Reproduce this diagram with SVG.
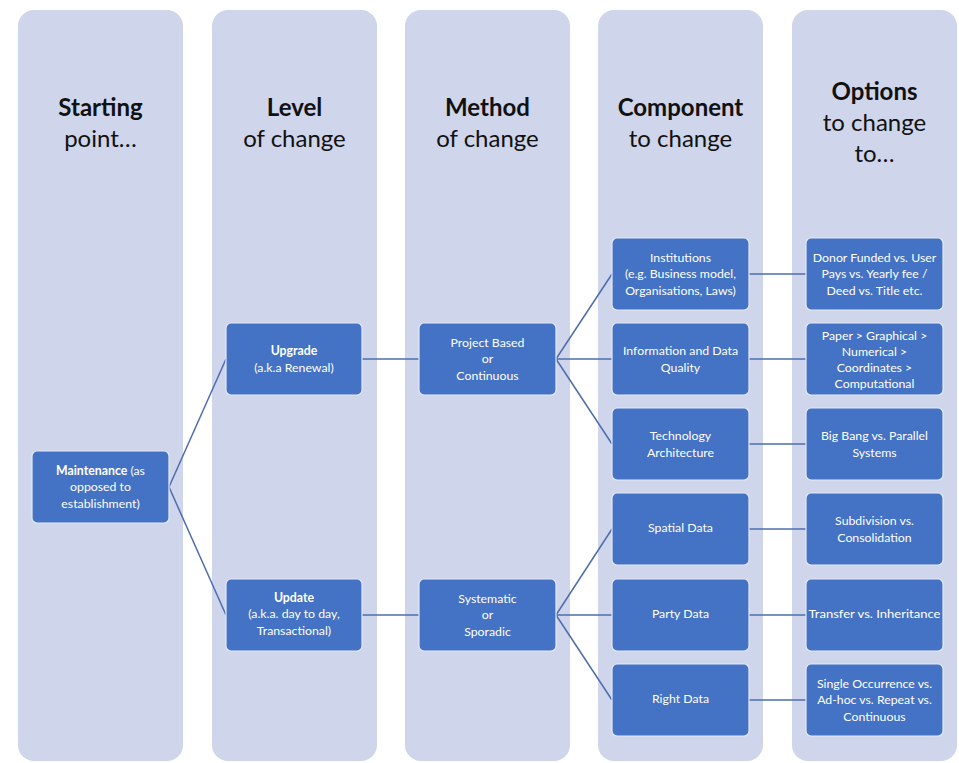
<svg xmlns="http://www.w3.org/2000/svg" width="959" height="763" viewBox="0 0 959 763">
<style>
.col{fill:#CFD5EA;}
.hd{font-family:Lato,"Liberation Sans",sans-serif;font-size:24px;fill:#111;text-anchor:middle;}
.hb{font-weight:bold;}
.nd{fill:#4472C4;stroke:#E4EAF6;stroke-width:1.2;}
.tx{font-family:Lato,"Liberation Sans",sans-serif;font-size:12.3px;fill:#fff;text-anchor:middle;}
.b{font-weight:bold;}
.cn{stroke:#4E6CB0;stroke-width:1.5;fill:none;}
</style>
<rect width="959" height="763" fill="#fff"/>
<g id="columns">
<rect class="col" x="18" y="10" width="165" height="751" rx="16"/>
<rect class="col" x="212" y="10" width="165" height="751" rx="16"/>
<rect class="col" x="405" y="10" width="165" height="751" rx="16"/>
<rect class="col" x="598" y="10" width="165" height="751" rx="16"/>
<rect class="col" x="792" y="10" width="165" height="751" rx="16"/>
</g>
<g id="headers">
<text class="hd hb" x="100.5" y="116">Starting</text>
<text class="hd" x="100.5" y="147">point…</text>
<text class="hd hb" x="294.5" y="116">Level</text>
<text class="hd" x="294.5" y="147">of change</text>
<text class="hd hb" x="487.5" y="116">Method</text>
<text class="hd" x="487.5" y="147">of change</text>
<text class="hd hb" x="680.5" y="116">Component</text>
<text class="hd" x="680.5" y="147">to change</text>
<text class="hd hb" x="874.5" y="100">Options</text>
<text class="hd" x="874.5" y="131">to change</text>
<text class="hd" x="874.5" y="162">to…</text>
</g>
<g id="connectors">
<line class="cn" x1="169" y1="487" x2="226" y2="359"/>
<line class="cn" x1="169" y1="487" x2="226" y2="615"/>
<line class="cn" x1="362" y1="359" x2="419" y2="359"/>
<line class="cn" x1="362" y1="615" x2="419" y2="615"/>
<line class="cn" x1="556" y1="359" x2="612" y2="274"/>
<line class="cn" x1="556" y1="359" x2="612" y2="359"/>
<line class="cn" x1="556" y1="359" x2="612" y2="444"/>
<line class="cn" x1="556" y1="615" x2="612" y2="529"/>
<line class="cn" x1="556" y1="615" x2="612" y2="615"/>
<line class="cn" x1="556" y1="615" x2="612" y2="700"/>
<line class="cn" x1="749" y1="274" x2="806" y2="274"/>
<line class="cn" x1="749" y1="359" x2="806" y2="359"/>
<line class="cn" x1="749" y1="444" x2="806" y2="444"/>
<line class="cn" x1="749" y1="529" x2="806" y2="529"/>
<line class="cn" x1="749" y1="615" x2="806" y2="615"/>
<line class="cn" x1="749" y1="700" x2="806" y2="700"/>
</g>
<g id="maintenance">
<rect class="nd" x="32" y="451" width="137" height="72" rx="5"/>
<text class="tx" x="100.5" y="474.5"><tspan class="b">Maintenance</tspan> (as</text>
<text class="tx" x="100.5" y="491">opposed to</text>
<text class="tx" x="100.5" y="507.5">establishment)</text>
</g>
<g id="upgrade">
<rect class="nd" x="226" y="323" width="136" height="72" rx="5"/>
<text class="tx b" x="294" y="355">Upgrade</text>
<text class="tx" x="294" y="371.5">(a.k.a Renewal)</text>
</g>
<g id="update">
<rect class="nd" x="226" y="579" width="136" height="72" rx="5"/>
<text class="tx b" x="294" y="601.5">Update</text>
<text class="tx" x="294" y="618">(a.k.a. day to day,</text>
<text class="tx" x="294" y="634.5">Transactional)</text>
</g>
<g id="project-based">
<rect class="nd" x="419" y="323" width="137" height="72" rx="5"/>
<text class="tx" x="487.5" y="346.5">Project Based</text>
<text class="tx" x="487.5" y="363">or</text>
<text class="tx" x="487.5" y="379.5">Continuous</text>
</g>
<g id="systematic">
<rect class="nd" x="419" y="579" width="137" height="72" rx="5"/>
<text class="tx" x="487.5" y="602.5">Systematic</text>
<text class="tx" x="487.5" y="619">or</text>
<text class="tx" x="487.5" y="635.5">Sporadic</text>
</g>
<g id="institutions">
<rect class="nd" x="612" y="238" width="137" height="72" rx="5"/>
<text class="tx" x="680.5" y="261.5">Institutions</text>
<text class="tx" x="680.5" y="278">(e.g. Business model,</text>
<text class="tx" x="680.5" y="294.5">Organisations, Laws)</text>
</g>
<g id="information">
<rect class="nd" x="612" y="323" width="137" height="72" rx="5"/>
<text class="tx" x="680.5" y="355">Information and Data</text>
<text class="tx" x="680.5" y="371.5">Quality</text>
</g>
<g id="technology">
<rect class="nd" x="612" y="408" width="137" height="72" rx="5"/>
<text class="tx" x="680.5" y="440">Technology</text>
<text class="tx" x="680.5" y="456.5">Architecture</text>
</g>
<g id="spatial">
<rect class="nd" x="612" y="493" width="137" height="72" rx="5"/>
<text class="tx" x="680.5" y="532">Spatial Data</text>
</g>
<g id="party">
<rect class="nd" x="612" y="579" width="137" height="72" rx="5"/>
<text class="tx" x="680.5" y="618">Party Data</text>
</g>
<g id="right">
<rect class="nd" x="612" y="664" width="137" height="72" rx="5"/>
<text class="tx" x="680.5" y="703">Right Data</text>
</g>
<g id="opt-institutions">
<rect class="nd" x="806" y="238" width="137" height="72" rx="5"/>
<text class="tx" x="874.5" y="261.5">Donor Funded vs. User</text>
<text class="tx" x="874.5" y="278">Pays vs. Yearly fee /</text>
<text class="tx" x="874.5" y="294.5">Deed vs. Title etc.</text>
</g>
<g id="opt-information">
<rect class="nd" x="806" y="323" width="137" height="72" rx="5"/>
<text class="tx" x="874.5" y="339.5">Paper &gt; Graphical &gt;</text>
<text class="tx" x="874.5" y="355.5">Numerical &gt;</text>
<text class="tx" x="874.5" y="371.5">Coordinates &gt;</text>
<text class="tx" x="874.5" y="387.5">Computational</text>
</g>
<g id="opt-technology">
<rect class="nd" x="806" y="408" width="137" height="72" rx="5"/>
<text class="tx" x="874.5" y="440">Big Bang vs. Parallel</text>
<text class="tx" x="874.5" y="456.5">Systems</text>
</g>
<g id="opt-spatial">
<rect class="nd" x="806" y="493" width="137" height="72" rx="5"/>
<text class="tx" x="874.5" y="525">Subdivision vs.</text>
<text class="tx" x="874.5" y="541.5">Consolidation</text>
</g>
<g id="opt-party">
<rect class="nd" x="806" y="579" width="137" height="72" rx="5"/>
<text class="tx" x="874.5" y="618" textLength="132" lengthAdjust="spacingAndGlyphs">Transfer vs. Inheritance</text>
</g>
<g id="opt-right">
<rect class="nd" x="806" y="664" width="137" height="72" rx="5"/>
<text class="tx" x="874.5" y="687.5">Single Occurrence vs.</text>
<text class="tx" x="874.5" y="704">Ad-hoc vs. Repeat vs.</text>
<text class="tx" x="874.5" y="720.5">Continuous</text>
</g>
</svg>
